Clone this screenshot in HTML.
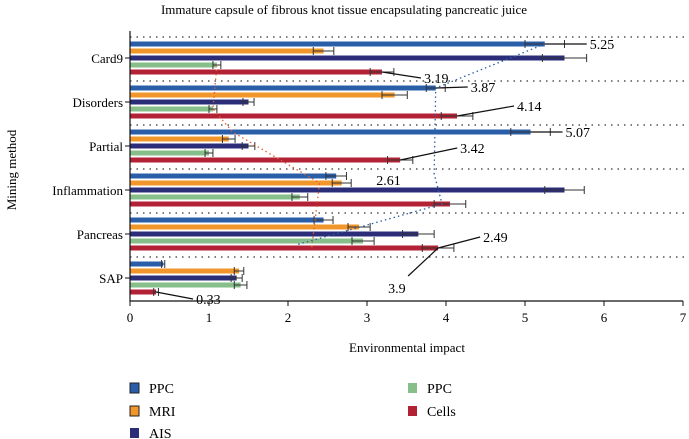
<!DOCTYPE html>
<html><head><meta charset="utf-8"><style>
body{margin:0;background:#fff;font-family:"Liberation Serif",serif;}
svg{display:block}
</style></head><body>
<svg id="c" width="689" height="439" xmlns="http://www.w3.org/2000/svg"></svg>
<script>
const categories=["Card9","Disorders","Partial","Inflammation","Pancreas","SAP"];
const seriesNames=["PPC","MRI","AIS","PPC","Cells"];
const colors=["#2a5ea8","#f0962a","#2b2d78","#86bf8a","#b22234"];
const ppcBlue=[5.25,3.87,5.07,2.61,2.45,0.42];
const mri=[2.45,3.35,1.25,2.68,2.9,1.38];
const ais=[5.5,1.5,1.5,5.5,3.65,1.35];
const ppcGreen=[1.1,1.05,1.0,2.15,2.95,1.4];
const cells=[3.19,4.14,3.42,4.05,3.9,0.33];
const errs=[[0.25,0.12,0.25,0.13,0.12,0.02],[0.13,0.16,0.08,0.12,0.14,0.06],[0.28,0.07,0.08,0.25,0.2,0.07],[0.05,0.05,0.05,0.1,0.14,0.08],[0.15,0.2,0.16,0.2,0.2,0.03]];
const xTicks=[0,1,2,3,4,5,6,7];
const labels=[["5.25",0,0],["3.19",0,4],["3.87",1,0],["4.14",1,4],["5.07",2,0],["3.42",2,4],["2.61",3,0],["2.49",4,4],["3.9",4,4],["0.33",5,4]];
const S="http://www.w3.org/2000/svg",svg=document.getElementById('c');
const x0=130,sc=79,top0=37,gap=44,axisY=301;
const X=v=>x0+v*sc, Y=(g,k)=>top0+g*gap+7*(k+1);
function el(t,a,txt){const e=document.createElementNS(S,t);for(const k in a)e.setAttribute(k,a[k]);if(txt!=null)e.textContent=txt;svg.appendChild(e);return e;}
const series=[ppcBlue,mri,ais,ppcGreen,cells];
let t=el('text',{x:344,y:14,'text-anchor':'middle','font-size':13},"Immature capsule of fibrous knot tissue encapsulating pancreatic juice");

for(let g=0;g<6;g++){let l=el('line',{x1:x0,x2:685,y1:top0+g*gap,y2:top0+g*gap,stroke:'#333','stroke-dasharray':'1.5 5','stroke-width':1.2});
}
series.forEach((s,k)=>s.forEach((v,g)=>{
 const y=Y(g,k);
 let r=el('rect',{x:x0,y:y-2.5,width:X(v)-x0,height:5,fill:colors[k]});
 
 const e=errs[k][g];
 let p=el('path',{d:`M${X(v-e)},${y}H${X(v+e)}M${X(v-e)},${y-4}v8M${X(v+e)},${y-4}v8`,stroke:'#333','stroke-width':1,fill:'none'});
 
}));
let d1=el('polyline',{points:`${X(ppcBlue[0])},${Y(0,0)} ${X(ppcBlue[1])},${Y(1,0)} ${X(3.85)},${Y(3,0)-2} ${X(3.95)},${Y(3,4)} ${X(2.1)},${Y(4,3)+4}`,fill:'none',stroke:'#2a5ea8','stroke-dasharray':'1.5 3','stroke-width':1.3});

let d2=el('polyline',{points:`${X(ppcGreen[0])},${Y(0,3)} ${X(ppcGreen[1])},${Y(1,3)} ${X(1.3)},${Y(2,0)} ${X(2.4)},${Y(3,1)} ${X(2.3)},${Y(4,4)}`,fill:'none',stroke:'#e0602a','stroke-dasharray':'1.5 3','stroke-width':1.3});

const offs={"5.25":[45,0],"3.19":[42,6],"3.87":[35,-1],"4.14":[60,-10],"5.07":[35,0],"3.42":[60,-12],"2.61":[40,4],"2.49":[45,-11],"3.9":[-50,40],"0.33":[40,7]};
labels.forEach(([txt,g,k])=>{const v=series[k][g],xa=X(v),ya=Y(g,k),o=offs[txt];
 if(txt!=="2.61"){let ln=el('line',{x1:xa,y1:ya,x2:xa+o[0]-(o[0]>0?3:-20),y2:ya+o[1]-(txt==="3.9"?12:0),stroke:'#111','stroke-width':1.2});
 }
 let tt=el('text',{x:xa+o[0],y:ya+o[1]+5,'font-size':14},txt);
 });
let ax=el('path',{d:`M${x0},${top0-6}V${axisY}H${X(7)}`,stroke:'#111',fill:'none','stroke-width':1.2});

xTicks.forEach(v=>{el('line',{x1:X(v),x2:X(v),y1:axisY,y2:axisY+5,stroke:'#111'});
 let tl=el('text',{x:X(v),y:322,'text-anchor':'middle','font-size':13},v);
 });
categories.forEach((c,g)=>{el('line',{x1:x0-5,x2:x0,y1:Y(g,2),y2:Y(g,2),stroke:'#111'});
 let tl=el('text',{x:x0-7,y:Y(g,2)+5,'text-anchor':'end','font-size':13},c);
 });
t=el('text',{x:407,y:352,'text-anchor':'middle','font-size':13},"Environmental impact");

t=el('text',{x:0,y:0,'text-anchor':'middle','font-size':13,transform:'translate(16,170) rotate(-90)'},"Mining method");

const lg=[[130,388],[130,411],[130,433],[408,388],[408,411]];
seriesNames.forEach((n,k)=>{const [lx,ly]=lg[k];
 let r=el('rect',{x:lx,y:ly-5,width:9,height:10,fill:colors[k],stroke:k<2?'#222':'none'});
 
 let tl=el('text',{x:lx+19,y:ly+5,'font-size':14},n);
 });
</script>
</body></html>
